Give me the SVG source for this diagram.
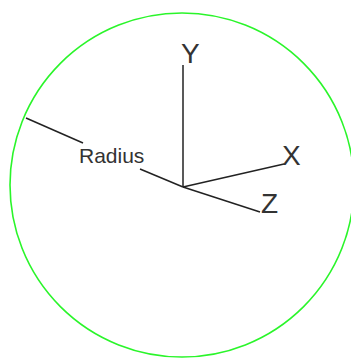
<svg xmlns="http://www.w3.org/2000/svg" width="351" height="358" viewBox="0 0 351 358">
<style>
.ax{stroke:#222;stroke-width:1.5;fill:none}
.lbl{font-family:"Liberation Sans",Arial,sans-serif;fill:#333}
</style>
<rect width="351" height="358" fill="#fff"/>
<g id="sphere"><circle cx="182" cy="185" r="172" fill="none" stroke="#2af52a" stroke-width="1.6"/></g>
<g id="connectors">
<line class="ax" x1="183" y1="187" x2="183" y2="65" stroke-width="2"/>
<line class="ax" x1="183" y1="187" x2="284" y2="164"/>
<line class="ax" x1="183" y1="187" x2="260" y2="212"/>
<line class="ax" x1="26" y1="118" x2="83" y2="143"/>
<line class="ax" x1="140" y1="169" x2="183" y2="187"/>
</g>
<g id="y-label"><text class="lbl" x="181" y="63" font-size="28">Y</text></g>
<g id="x-label"><text class="lbl" x="282" y="165" font-size="28">X</text></g>
<g id="z-label"><text class="lbl" x="261" y="213" font-size="28">Z</text></g>
<g id="radius-label"><text class="lbl" x="79" y="163" font-size="21">Radius</text></g>
</svg>
